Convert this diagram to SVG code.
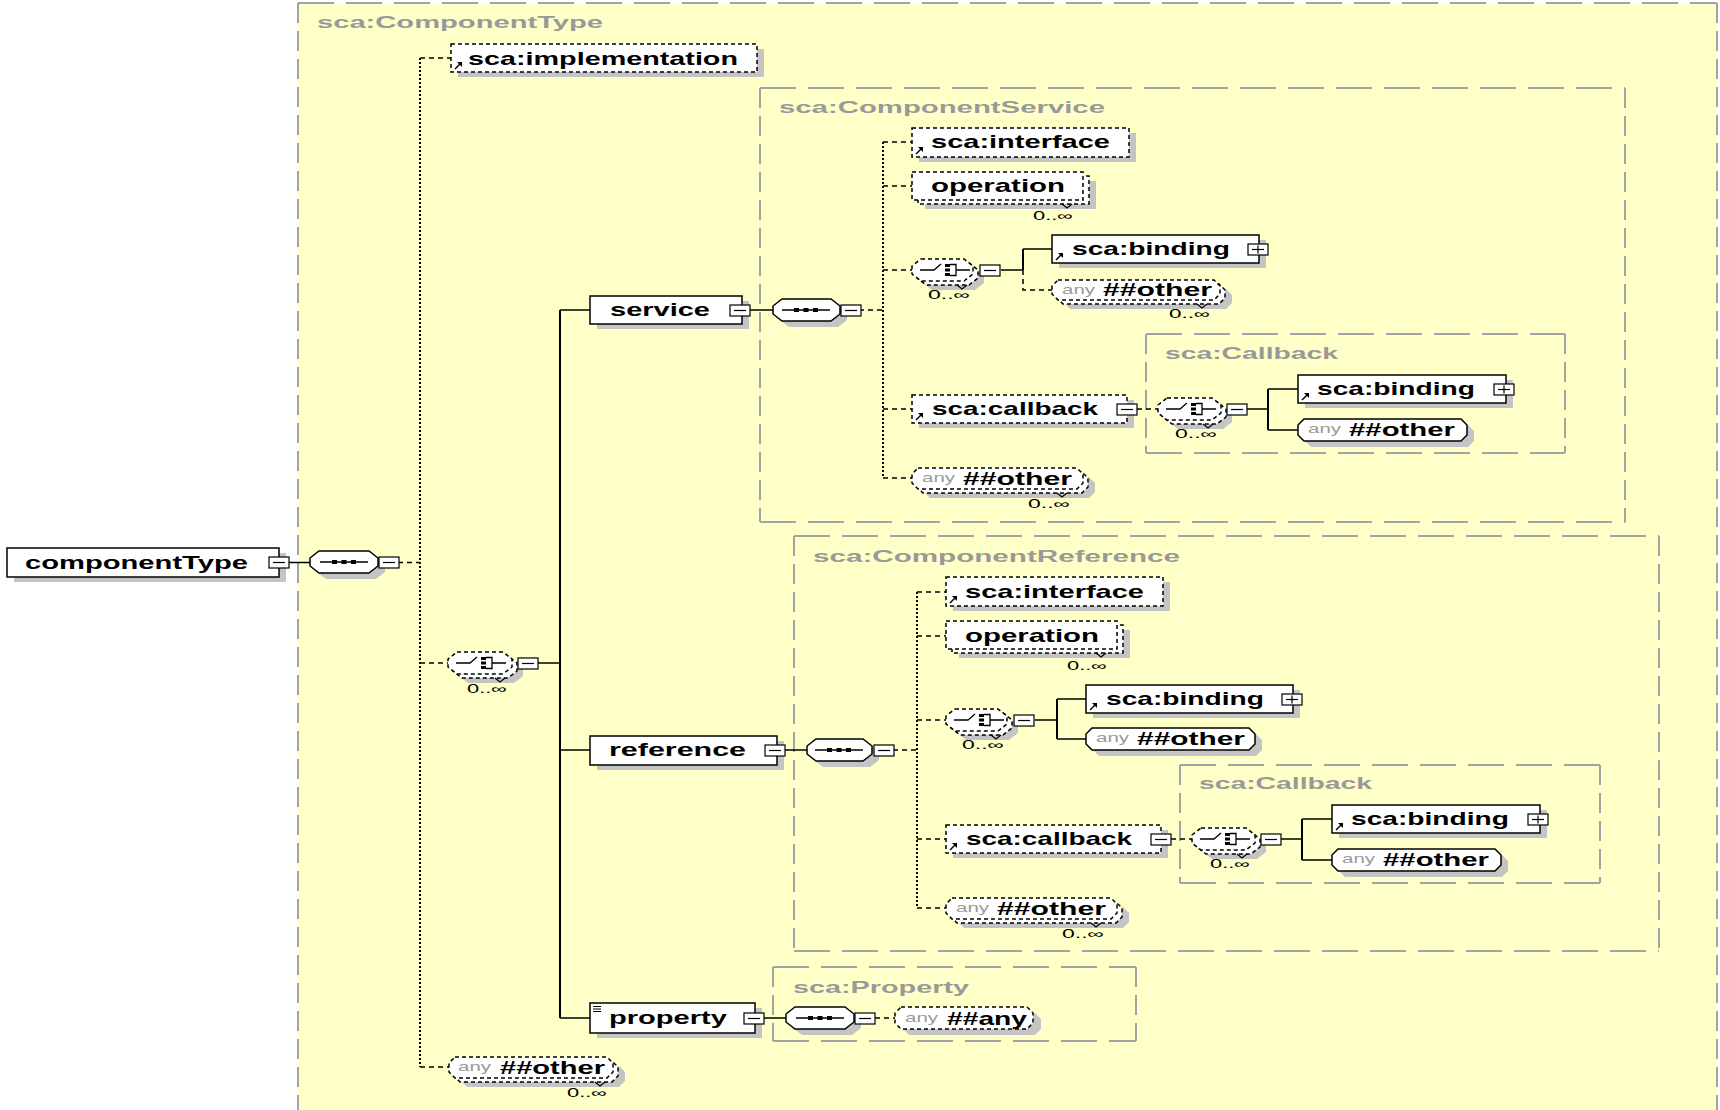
<svg xmlns="http://www.w3.org/2000/svg" xmlns:xlink="http://www.w3.org/1999/xlink" width="1720" height="1110" viewBox="0 0 1720 1110">
<style>
  .bg { fill: #ffffff; }
  .area { fill: #ffffc8; }
  .grp { fill: none; stroke: #a3a3a3; stroke-width: 2; }
  .gh { stroke-dasharray: 36 12; }
  .gv { stroke-dasharray: 20 8; }
  .gl { font-family: "Liberation Sans", Arial, sans-serif; font-weight: bold; font-size: 16px; fill: #999999; }
  .box { fill: #ffffff; stroke: #000000; stroke-width: 1.5; }
  .opt { stroke-dasharray: 4 3; }
  .sh { fill: #c4c4c4; stroke: none; }
  .lbl { font-family: "Liberation Sans", Arial, sans-serif; font-weight: bold; font-size: 19px; fill: #000000; }
  .any { font-family: "Liberation Sans", Arial, sans-serif; font-size: 13px; fill: #9a9a9a; }
  .occ { font-family: "Liberation Sans", Arial, sans-serif; font-size: 12px; fill: #000000; }
  .c { fill: none; stroke: #000000; stroke-width: 1.5; }
  .cv { fill: none; stroke: #000000; stroke-width: 2; }
  .cd { stroke-dasharray: 5 4; }
  .dot { fill: none; stroke: #000000; stroke-width: 2; stroke-dasharray: 2 2; }
  .ink { fill: none; stroke: #000000; stroke-width: 1.2; }
</style>
<defs>
  <!-- collapse / expand buttons -->
  <g id="bm">
    <rect x="0" y="0" width="20" height="11" fill="#ffffff" stroke="#000000" stroke-width="1.2"/>
    <line x1="4" y1="5.5" x2="16" y2="5.5" stroke="#000000" stroke-width="1.2"/>
  </g>
  <g id="bp">
    <rect x="0" y="0" width="20" height="11" fill="#ffffff" stroke="#000000" stroke-width="1.2"/>
    <line x1="4" y1="5.5" x2="16" y2="5.5" stroke="#000000" stroke-width="1.2"/>
    <line x1="10" y1="1.5" x2="10" y2="9.5" stroke="#000000" stroke-width="1.2"/>
  </g>
  <!-- sequence symbol, centred -->
  <g id="seq">
    <line x1="-24" y1="0" x2="24" y2="0" stroke="#000000" stroke-width="1.3"/>
    <rect x="-12" y="-2" width="5" height="4" fill="#000000"/>
    <rect x="-2.5" y="-2" width="5" height="4" fill="#000000"/>
    <rect x="7" y="-2" width="5" height="4" fill="#000000"/>
  </g>
  <!-- choice symbol, origin at left edge / centre line -->
  <g id="cho">
    <path d="M8,0 H22 L29,-6" fill="none" stroke="#000000" stroke-width="1.3"/>
    <rect x="33" y="-6" width="5" height="3" fill="#000000"/>
    <rect x="33" y="-1.5" width="5" height="3" fill="#000000"/>
    <rect x="33" y="3" width="5" height="3" fill="#000000"/>
    <path d="M38,-5.5 H44 V5.5 H38 M44,0 H58" fill="none" stroke="#000000" stroke-width="1.3"/>
  </g>
  <!-- global reference arrow, origin at bottom-left corner of box -->
  <g id="ref">
    <line x1="4" y1="-3" x2="9" y2="-8" stroke="#000000" stroke-width="1.5"/>
    <polygon points="11,-10 6,-10 11,-5" fill="#000000"/>
  </g>
</defs>

<rect class="bg" x="0" y="0" width="1720" height="1110"/>

<!-- complex type areas -->
<g id="areas">
  <rect class="area" x="298" y="3" width="1419" height="1110"/>
  <line class="grp gh" x1="298" y1="3" x2="1717" y2="3"/>
  <line class="grp gv" x1="298" y1="3" x2="298" y2="1110"/>
  <line class="grp gv" x1="1717" y1="3" x2="1717" y2="1110"/>
  <text class="gl" x="317" y="28" textLength="286" lengthAdjust="spacingAndGlyphs">sca:ComponentType</text>

  <line class="grp gh" x1="760" y1="88" x2="1625" y2="88"/>
  <line class="grp gh" x1="760" y1="522" x2="1625" y2="522"/>
  <line class="grp gv" x1="760" y1="88" x2="760" y2="522"/>
  <line class="grp gv" x1="1625" y1="88" x2="1625" y2="522"/>
  <text class="gl" x="779" y="113" textLength="326" lengthAdjust="spacingAndGlyphs">sca:ComponentService</text>

  <line class="grp gh" x1="1146" y1="334" x2="1565" y2="334"/>
  <line class="grp gh" x1="1146" y1="453" x2="1565" y2="453"/>
  <line class="grp gv" x1="1146" y1="334" x2="1146" y2="453"/>
  <line class="grp gv" x1="1565" y1="334" x2="1565" y2="453"/>
  <text class="gl" x="1165" y="359" textLength="173" lengthAdjust="spacingAndGlyphs">sca:Callback</text>

  <line class="grp gh" x1="794" y1="536" x2="1659" y2="536"/>
  <line class="grp gh" x1="794" y1="951" x2="1659" y2="951"/>
  <line class="grp gv" x1="794" y1="536" x2="794" y2="951"/>
  <line class="grp gv" x1="1659" y1="536" x2="1659" y2="951"/>
  <text class="gl" x="813" y="562" textLength="367" lengthAdjust="spacingAndGlyphs">sca:ComponentReference</text>

  <line class="grp gh" x1="1180" y1="765" x2="1600" y2="765"/>
  <line class="grp gh" x1="1180" y1="883" x2="1600" y2="883"/>
  <line class="grp gv" x1="1180" y1="765" x2="1180" y2="883"/>
  <line class="grp gv" x1="1600" y1="765" x2="1600" y2="883"/>
  <text class="gl" x="1199" y="789" textLength="173" lengthAdjust="spacingAndGlyphs">sca:Callback</text>

  <line class="grp gh" x1="773" y1="967" x2="1136" y2="967"/>
  <line class="grp gh" x1="773" y1="1041" x2="1136" y2="1041"/>
  <line class="grp gv" x1="773" y1="967" x2="773" y2="1041"/>
  <line class="grp gv" x1="1136" y1="967" x2="1136" y2="1041"/>
  <text class="gl" x="793" y="993" textLength="176" lengthAdjust="spacingAndGlyphs">sca:Property</text>
</g>

<!-- connectors -->
<g id="connectors">
  <path class="c" d="M287,562.5 H310"/>
  <path class="c cd" d="M398,562.5 H420"/>
  <path class="dot" d="M420,58 V1067"/>
  <path class="c cd" d="M420,58 H451 M420,663 H448 M420,1067 H449"/>
  <path class="c" d="M538,663 H560 M560,310 H590 M560,750 H590 M560,1018 H590"/>
  <path class="cv" d="M560,310 V1018"/>

  <path class="c" d="M750,310 H773"/>
  <path class="c cd" d="M859,310 H883"/>
  <path class="dot" d="M883,142 V478"/>
  <path class="c cd" d="M883,142 H912 M883,186 H912 M883,270 H912 M883,409 H912 M883,478 H912"/>
  <path class="c" d="M1001,270 H1023 M1023,249 H1052"/>
  <path class="cv" d="M1023,249 V270"/>
  <path class="c cd" d="M1023,270 V290 H1052"/>
  <path class="c cd" d="M1137,409 H1158"/>
  <path class="c" d="M1247,409 H1268 M1268,389 H1298 M1268,430 H1298"/>
  <path class="cv" d="M1268,389 V430"/>

  <path class="c" d="M785,750 H807"/>
  <path class="c cd" d="M893,750 H917"/>
  <path class="dot" d="M917,592 V908"/>
  <path class="c cd" d="M917,592 H946 M917,636 H946 M917,720 H946 M917,839 H946 M917,908 H946"/>
  <path class="c" d="M1035,720 H1057 M1057,699 H1086 M1057,739 H1086"/>
  <path class="cv" d="M1057,699 V739"/>
  <path class="c cd" d="M1171,839 H1192"/>
  <path class="c" d="M1281,839 H1302 M1302,819 H1332 M1302,860 H1332"/>
  <path class="cv" d="M1302,819 V860"/>

  <path class="c" d="M764,1018 H786"/>
  <path class="c cd" d="M875,1018 H895"/>
</g>

<!-- root element -->
<g id="componentType">
  <rect class="sh" x="14" y="553" width="272" height="29"/>
  <rect class="box" x="7" y="548" width="272" height="29"/>
  <text class="lbl" x="25" y="569" textLength="223" lengthAdjust="spacingAndGlyphs">componentType</text>
  <use href="#bm" x="269" y="557"/>
</g>

<g id="seq-componentType">
  <polygon class="sh" transform="translate(7,6)" points="319,551 369,551 378,558 378,566 369,573 319,573 310,566 310,558"/>
  <polygon class="box" points="319,551 369,551 378,558 378,566 369,573 319,573 310,566 310,558"/>
  <use href="#seq" x="344" y="562"/>
  <use href="#bm" x="379" y="557"/>
</g>

<g id="implementation">
  <rect class="sh" x="458" y="49" width="306" height="28"/>
  <rect class="box opt" x="451" y="44" width="306" height="28"/>
  <text class="lbl" x="468" y="65" textLength="270" lengthAdjust="spacingAndGlyphs">sca:implementation</text>
  <use href="#ref" x="451" y="72"/>
</g>

<g id="choice-main">
  <polygon class="sh" transform="translate(11,9)" points="457,652 503,652 512,659 512,667 503,674 457,674 448,667 448,659"/>
  <polygon class="box opt" transform="translate(5,4)" points="457,652 503,652 512,659 512,667 503,674 457,674 448,667 448,659"/>
  <polygon class="box opt" points="457,652 503,652 512,659 512,667 503,674 457,674 448,667 448,659"/>
  <polyline class="ink" points="495,678 500,682 505,678"/>
  <use href="#cho" x="448" y="663"/>
  <use href="#bm" x="518" y="658"/>
  <text class="occ" x="467" y="693" textLength="40" lengthAdjust="spacingAndGlyphs">0..∞</text>
</g>

<!-- service -->
<g id="service">
  <rect class="sh" x="597" y="301" width="152" height="28"/>
  <rect class="box" x="590" y="296" width="152" height="28"/>
  <text class="lbl" x="610" y="316" textLength="100" lengthAdjust="spacingAndGlyphs">service</text>
  <use href="#bm" x="730" y="305"/>
</g>

<g id="seq-service">
  <polygon class="sh" transform="translate(7,6)" points="782,299 831,299 840,306 840,314 831,321 782,321 773,314 773,306"/>
  <polygon class="box" points="782,299 831,299 840,306 840,314 831,321 782,321 773,314 773,306"/>
  <use href="#seq" x="806" y="310"/>
  <use href="#bm" x="841" y="305"/>
</g>

<g id="service-interface">
  <rect class="sh" x="919" y="133" width="217" height="29"/>
  <rect class="box opt" x="912" y="128" width="217" height="29"/>
  <text class="lbl" x="931" y="148" textLength="179" lengthAdjust="spacingAndGlyphs">sca:interface</text>
  <use href="#ref" x="912" y="157"/>
</g>

<g id="service-operation">
  <rect class="sh" x="925" y="181" width="171" height="28"/>
  <rect class="box opt" x="918" y="176" width="171" height="28"/>
  <rect class="box opt" x="912" y="172" width="171" height="28"/>
  <polyline class="ink" points="1062,204 1067,208 1072,204"/>
  <text class="lbl" x="931" y="192" textLength="134" lengthAdjust="spacingAndGlyphs">operation</text>
  <text class="occ" x="1033" y="220" textLength="40" lengthAdjust="spacingAndGlyphs">0..∞</text>
</g>

<g id="service-choice">
  <polygon class="sh" transform="translate(11,9)" points="921,259 964,259 973,266 973,274 964,281 921,281 912,274 912,266"/>
  <polygon class="box opt" transform="translate(5,4)" points="921,259 964,259 973,266 973,274 964,281 921,281 912,274 912,266"/>
  <polygon class="box opt" points="921,259 964,259 973,266 973,274 964,281 921,281 912,274 912,266"/>
  <polyline class="ink" points="957,285 962,289 967,285"/>
  <use href="#cho" x="912" y="270"/>
  <use href="#bm" x="980" y="265"/>
  <text class="occ" x="928" y="299" textLength="42" lengthAdjust="spacingAndGlyphs">0..∞</text>
</g>

<g id="service-binding">
  <rect class="sh" x="1059" y="240" width="207" height="28"/>
  <rect class="box" x="1052" y="235" width="207" height="28"/>
  <text class="lbl" x="1072" y="255" textLength="158" lengthAdjust="spacingAndGlyphs">sca:binding</text>
  <use href="#ref" x="1052" y="263"/>
  <use href="#bp" x="1248" y="244"/>
</g>

<g id="service-any">
  <polygon class="sh" transform="translate(12,9)" points="1058,280 1214,280 1220,286 1220,294 1214,300 1058,300 1052,294 1052,286"/>
  <polygon class="box opt" transform="translate(5,4)" points="1058,280 1214,280 1220,286 1220,294 1214,300 1058,300 1052,294 1052,286"/>
  <polygon class="box opt" points="1058,280 1214,280 1220,286 1220,294 1214,300 1058,300 1052,294 1052,286"/>
  <polyline class="ink" points="1197,304 1202,308 1207,304"/>
  <text class="any" x="1062" y="294" textLength="33" lengthAdjust="spacingAndGlyphs">any</text>
  <text class="lbl" x="1103" y="296" textLength="109" lengthAdjust="spacingAndGlyphs">##other</text>
  <text class="occ" x="1169" y="318" textLength="41" lengthAdjust="spacingAndGlyphs">0..∞</text>
</g>

<g id="service-callback">
  <rect class="sh" x="919" y="400" width="215" height="28"/>
  <rect class="box opt" x="912" y="395" width="215" height="28"/>
  <text class="lbl" x="932" y="415" textLength="166" lengthAdjust="spacingAndGlyphs">sca:callback</text>
  <use href="#ref" x="912" y="423"/>
  <use href="#bm" x="1117" y="404"/>
</g>

<g id="service-callback-choice">
  <polygon class="sh" transform="translate(11,9)" points="1167,398 1212,398 1221,405 1221,413 1212,420 1167,420 1158,413 1158,405"/>
  <polygon class="box opt" transform="translate(5,4)" points="1167,398 1212,398 1221,405 1221,413 1212,420 1167,420 1158,413 1158,405"/>
  <polygon class="box opt" points="1167,398 1212,398 1221,405 1221,413 1212,420 1167,420 1158,413 1158,405"/>
  <polyline class="ink" points="1203,424 1208,428 1213,424"/>
  <use href="#cho" x="1158" y="409"/>
  <use href="#bm" x="1227" y="404"/>
  <text class="occ" x="1175" y="438" textLength="42" lengthAdjust="spacingAndGlyphs">0..∞</text>
</g>

<g id="service-callback-binding">
  <rect class="sh" x="1305" y="380" width="208" height="28"/>
  <rect class="box" x="1298" y="375" width="208" height="28"/>
  <text class="lbl" x="1317" y="395" textLength="158" lengthAdjust="spacingAndGlyphs">sca:binding</text>
  <use href="#ref" x="1298" y="403"/>
  <use href="#bp" x="1494" y="384"/>
</g>

<g id="service-callback-any">
  <polygon class="sh" transform="translate(7,6)" points="1304,419 1461,419 1467,425 1467,435 1461,441 1304,441 1298,435 1298,425"/>
  <polygon class="box" points="1304,419 1461,419 1467,425 1467,435 1461,441 1304,441 1298,435 1298,425"/>
  <text class="any" x="1308" y="433" textLength="33" lengthAdjust="spacingAndGlyphs">any</text>
  <text class="lbl" x="1349" y="436" textLength="106" lengthAdjust="spacingAndGlyphs">##other</text>
</g>

<g id="service-other">
  <polygon class="sh" transform="translate(12,9)" points="918,468 1077,468 1083,474 1083,483 1077,489 918,489 912,483 912,474"/>
  <polygon class="box opt" transform="translate(5,4)" points="918,468 1077,468 1083,474 1083,483 1077,489 918,489 912,483 912,474"/>
  <polygon class="box opt" points="918,468 1077,468 1083,474 1083,483 1077,489 918,489 912,483 912,474"/>
  <polyline class="ink" points="1057,493 1062,497 1067,493"/>
  <text class="any" x="922" y="482" textLength="33" lengthAdjust="spacingAndGlyphs">any</text>
  <text class="lbl" x="963" y="485" textLength="109" lengthAdjust="spacingAndGlyphs">##other</text>
  <text class="occ" x="1028" y="508" textLength="42" lengthAdjust="spacingAndGlyphs">0..∞</text>
</g>

<!-- reference -->
<g id="reference">
  <rect class="sh" x="597" y="741" width="187" height="29"/>
  <rect class="box" x="590" y="736" width="187" height="29"/>
  <text class="lbl" x="609" y="756" textLength="137" lengthAdjust="spacingAndGlyphs">reference</text>
  <use href="#bm" x="765" y="745"/>
</g>

<g id="seq-reference">
  <polygon class="sh" transform="translate(7,6)" points="816,739 863,739 872,746 872,754 863,761 816,761 807,754 807,746"/>
  <polygon class="box" points="816,739 863,739 872,746 872,754 863,761 816,761 807,754 807,746"/>
  <use href="#seq" x="839" y="750"/>
  <use href="#bm" x="874" y="745"/>
</g>

<g id="reference-interface">
  <rect class="sh" x="953" y="582" width="217" height="29"/>
  <rect class="box opt" x="946" y="577" width="217" height="29"/>
  <text class="lbl" x="965" y="598" textLength="179" lengthAdjust="spacingAndGlyphs">sca:interface</text>
  <use href="#ref" x="946" y="606"/>
</g>

<g id="reference-operation">
  <rect class="sh" x="959" y="630" width="171" height="28"/>
  <rect class="box opt" x="952" y="625" width="171" height="28"/>
  <rect class="box opt" x="946" y="621" width="171" height="28"/>
  <polyline class="ink" points="1096,653 1101,657 1106,653"/>
  <text class="lbl" x="965" y="642" textLength="134" lengthAdjust="spacingAndGlyphs">operation</text>
  <text class="occ" x="1067" y="670" textLength="40" lengthAdjust="spacingAndGlyphs">0..∞</text>
</g>

<g id="reference-choice">
  <polygon class="sh" transform="translate(11,9)" points="955,709 998,709 1007,716 1007,724 998,731 955,731 946,724 946,716"/>
  <polygon class="box opt" transform="translate(5,4)" points="955,709 998,709 1007,716 1007,724 998,731 955,731 946,724 946,716"/>
  <polygon class="box opt" points="955,709 998,709 1007,716 1007,724 998,731 955,731 946,724 946,716"/>
  <polyline class="ink" points="991,735 996,739 1001,735"/>
  <use href="#cho" x="946" y="720"/>
  <use href="#bm" x="1014" y="715"/>
  <text class="occ" x="962" y="749" textLength="42" lengthAdjust="spacingAndGlyphs">0..∞</text>
</g>

<g id="reference-binding">
  <rect class="sh" x="1093" y="690" width="207" height="28"/>
  <rect class="box" x="1086" y="685" width="207" height="28"/>
  <text class="lbl" x="1106" y="705" textLength="158" lengthAdjust="spacingAndGlyphs">sca:binding</text>
  <use href="#ref" x="1086" y="713"/>
  <use href="#bp" x="1282" y="694"/>
</g>

<g id="reference-any">
  <polygon class="sh" transform="translate(7,6)" points="1092,728 1249,728 1255,734 1255,744 1249,750 1092,750 1086,744 1086,734"/>
  <polygon class="box" points="1092,728 1249,728 1255,734 1255,744 1249,750 1092,750 1086,744 1086,734"/>
  <text class="any" x="1096" y="742" textLength="33" lengthAdjust="spacingAndGlyphs">any</text>
  <text class="lbl" x="1137" y="745" textLength="108" lengthAdjust="spacingAndGlyphs">##other</text>
</g>

<g id="reference-callback">
  <rect class="sh" x="953" y="830" width="215" height="28"/>
  <rect class="box opt" x="946" y="825" width="215" height="28"/>
  <text class="lbl" x="966" y="845" textLength="166" lengthAdjust="spacingAndGlyphs">sca:callback</text>
  <use href="#ref" x="946" y="853"/>
  <use href="#bm" x="1151" y="834"/>
</g>

<g id="reference-callback-choice">
  <polygon class="sh" transform="translate(11,9)" points="1201,828 1246,828 1255,835 1255,843 1246,850 1201,850 1192,843 1192,835"/>
  <polygon class="box opt" transform="translate(5,4)" points="1201,828 1246,828 1255,835 1255,843 1246,850 1201,850 1192,843 1192,835"/>
  <polygon class="box opt" points="1201,828 1246,828 1255,835 1255,843 1246,850 1201,850 1192,843 1192,835"/>
  <polyline class="ink" points="1237,854 1242,858 1247,854"/>
  <use href="#cho" x="1192" y="839"/>
  <use href="#bm" x="1261" y="834"/>
  <text class="occ" x="1210" y="868" textLength="40" lengthAdjust="spacingAndGlyphs">0..∞</text>
</g>

<g id="reference-callback-binding">
  <rect class="sh" x="1339" y="810" width="208" height="28"/>
  <rect class="box" x="1332" y="805" width="208" height="28"/>
  <text class="lbl" x="1351" y="825" textLength="158" lengthAdjust="spacingAndGlyphs">sca:binding</text>
  <use href="#ref" x="1332" y="833"/>
  <use href="#bp" x="1528" y="814"/>
</g>

<g id="reference-callback-any">
  <polygon class="sh" transform="translate(7,6)" points="1338,849 1495,849 1501,855 1501,865 1495,871 1338,871 1332,865 1332,855"/>
  <polygon class="box" points="1338,849 1495,849 1501,855 1501,865 1495,871 1338,871 1332,865 1332,855"/>
  <text class="any" x="1342" y="863" textLength="33" lengthAdjust="spacingAndGlyphs">any</text>
  <text class="lbl" x="1383" y="866" textLength="106" lengthAdjust="spacingAndGlyphs">##other</text>
</g>

<g id="reference-other">
  <polygon class="sh" transform="translate(12,9)" points="952,898 1111,898 1117,904 1117,913 1111,919 952,919 946,913 946,904"/>
  <polygon class="box opt" transform="translate(5,4)" points="952,898 1111,898 1117,904 1117,913 1111,919 952,919 946,913 946,904"/>
  <polygon class="box opt" points="952,898 1111,898 1117,904 1117,913 1111,919 952,919 946,913 946,904"/>
  <polyline class="ink" points="1091,923 1096,927 1101,923"/>
  <text class="any" x="956" y="912" textLength="33" lengthAdjust="spacingAndGlyphs">any</text>
  <text class="lbl" x="997" y="915" textLength="109" lengthAdjust="spacingAndGlyphs">##other</text>
  <text class="occ" x="1062" y="938" textLength="42" lengthAdjust="spacingAndGlyphs">0..∞</text>
</g>

<!-- property -->
<g id="property">
  <rect class="sh" x="597" y="1008" width="165" height="30"/>
  <rect class="box" x="590" y="1003" width="165" height="30"/>
  <path class="ink" d="M593,1006.5 H601 M593,1009 H601 M593,1011.5 H601"/>
  <text class="lbl" x="609" y="1024" textLength="118" lengthAdjust="spacingAndGlyphs">property</text>
  <use href="#bm" x="744" y="1013"/>
</g>

<g id="seq-property">
  <polygon class="sh" transform="translate(7,6)" points="795,1007 845,1007 854,1014 854,1022 845,1029 795,1029 786,1022 786,1014"/>
  <polygon class="box" points="795,1007 845,1007 854,1014 854,1022 845,1029 795,1029 786,1022 786,1014"/>
  <use href="#seq" x="820" y="1018"/>
  <use href="#bm" x="855" y="1013"/>
</g>

<g id="property-any">
  <polygon class="sh" transform="translate(8,6)" points="901,1007 1027,1007 1033,1013 1033,1023 1027,1029 901,1029 895,1023 895,1013"/>
  <polygon class="box opt" points="901,1007 1027,1007 1033,1013 1033,1023 1027,1029 901,1029 895,1023 895,1013"/>
  <text class="any" x="905" y="1022" textLength="33" lengthAdjust="spacingAndGlyphs">any</text>
  <text class="lbl" x="947" y="1025" textLength="80" lengthAdjust="spacingAndGlyphs">##any</text>
</g>

<g id="componentType-other">
  <polygon class="sh" transform="translate(12,9)" points="455,1057 607,1057 613,1063 613,1072 607,1078 455,1078 449,1072 449,1063"/>
  <polygon class="box opt" transform="translate(5,4)" points="455,1057 607,1057 613,1063 613,1072 607,1078 455,1078 449,1072 449,1063"/>
  <polygon class="box opt" points="455,1057 607,1057 613,1063 613,1072 607,1078 455,1078 449,1072 449,1063"/>
  <polyline class="ink" points="595,1082 600,1086 605,1082"/>
  <text class="any" x="458" y="1071" textLength="33" lengthAdjust="spacingAndGlyphs">any</text>
  <text class="lbl" x="500" y="1074" textLength="105" lengthAdjust="spacingAndGlyphs">##other</text>
  <text class="occ" x="567" y="1097" textLength="40" lengthAdjust="spacingAndGlyphs">0..∞</text>
</g>
</svg>
